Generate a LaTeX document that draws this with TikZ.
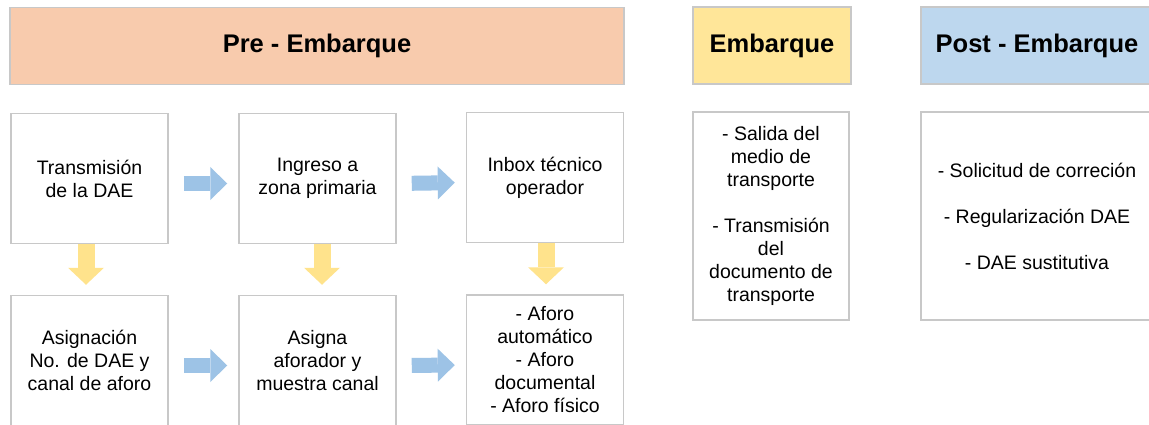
\documentclass[tikz,border=0pt]{standalone}
\usepackage{fontspec}
\setmainfont{Liberation Sans}
\usepackage{xcolor}
\usetikzlibrary{arrows.meta}
\definecolor{mPeach}{HTML}{F8CBAD}
\definecolor{mSand}{HTML}{FFE699}
\definecolor{mSky}{HTML}{BDD7EE}
\definecolor{mArrowBlue}{HTML}{9DC3E6}
\definecolor{mArrowGold}{HTML}{FFE38C}
\definecolor{mFrame}{HTML}{C8C8C8}

\begin{document}
\begin{tikzpicture}[x=1pt, y=-1pt,
  phase/.style={draw=mFrame, line width=1.5pt, minimum height=77pt, font=\fontsize{25.5}{30}\selectfont\bfseries},
  stepbox/.style={draw=mFrame, line width=1.5pt, fill=white, minimum width=157pt, minimum height=130pt, align=center, font=\fontsize{19.5}{23}\selectfont},
  flowH/.style={mArrowBlue, line width=15pt, -{Triangle[width=33pt, length=17pt, line width=0pt]}, shorten <=15pt, shorten >=11pt},
  flowV/.style={mArrowGold, line width=17pt, -{Triangle[width=36pt, length=17pt, line width=0pt]}, shorten >=10pt}]
\path[use as bounding box, fill=white] (0,0) rectangle (1149,425);

% phase headers
\node[phase, fill=mPeach, minimum width=614pt] (pre) at (317,46) {Pre - Embarque};
\node[phase, fill=mSand, minimum width=158pt] (emb) at (772,45.5) {Embarque};
\node[phase, fill=mSky, minimum width=232pt] (post) at (1037,45.5) {Post - Embarque};

% pre-embarque steps, two rows
\node[stepbox] (dae) at (89.5,178.5) {Transmisión\\de la DAE};
\node[stepbox] (zona) at (317.5,178.5) {Ingreso a\\zona primaria};
\node[stepbox] (inbox) at (545,177.5) {Inbox técnico\\operador};
\node[stepbox] (asig) at (89.5,360.5) {Asignación\\No. de DAE y\\canal de aforo};
\node[stepbox] (aforador) at (317.5,360.5) {Asigna\\aforador y\\muestra canal};
\node[stepbox] (aforo) at (545,360) {- Aforo\\automático\\- Aforo\\documental\\- Aforo físico};

% embarque and post-embarque lists
\node[stepbox, minimum width=156pt, minimum height=208pt] (salida) at (771,216) {- Salida del\\medio de\\transporte\\[23pt]- Transmisión\\del\\documento de\\transporte};
\node[stepbox, minimum width=232pt, minimum height=208pt] (correc) at (1037,216) {- Solicitud de correción\\[23pt]- Regularización DAE\\[23pt]- DAE sustitutiva};

% block arrows
\draw[flowH] ([yshift=-5pt]dae.east) -- ([yshift=-5pt]zona.west);
\draw[flowH] ([yshift=-5pt]zona.east) -- ([yshift=-5pt]inbox.west);
\draw[flowH] ([yshift=-5pt]asig.east) -- ([yshift=-5pt]aforador.west);
\draw[flowH] ([yshift=-5pt]aforador.east) -- ([yshift=-5pt]aforo.west);
\draw[flowV] ([xshift=-3.5pt]dae.south) -- ([xshift=-3.5pt]asig.north);
\draw[flowV] ([xshift=4.5pt]zona.south) -- ([xshift=4.5pt]aforador.north);
\draw[flowV] ([xshift=1pt]inbox.south) -- ([xshift=1pt]aforo.north);
\end{tikzpicture}
\end{document}
